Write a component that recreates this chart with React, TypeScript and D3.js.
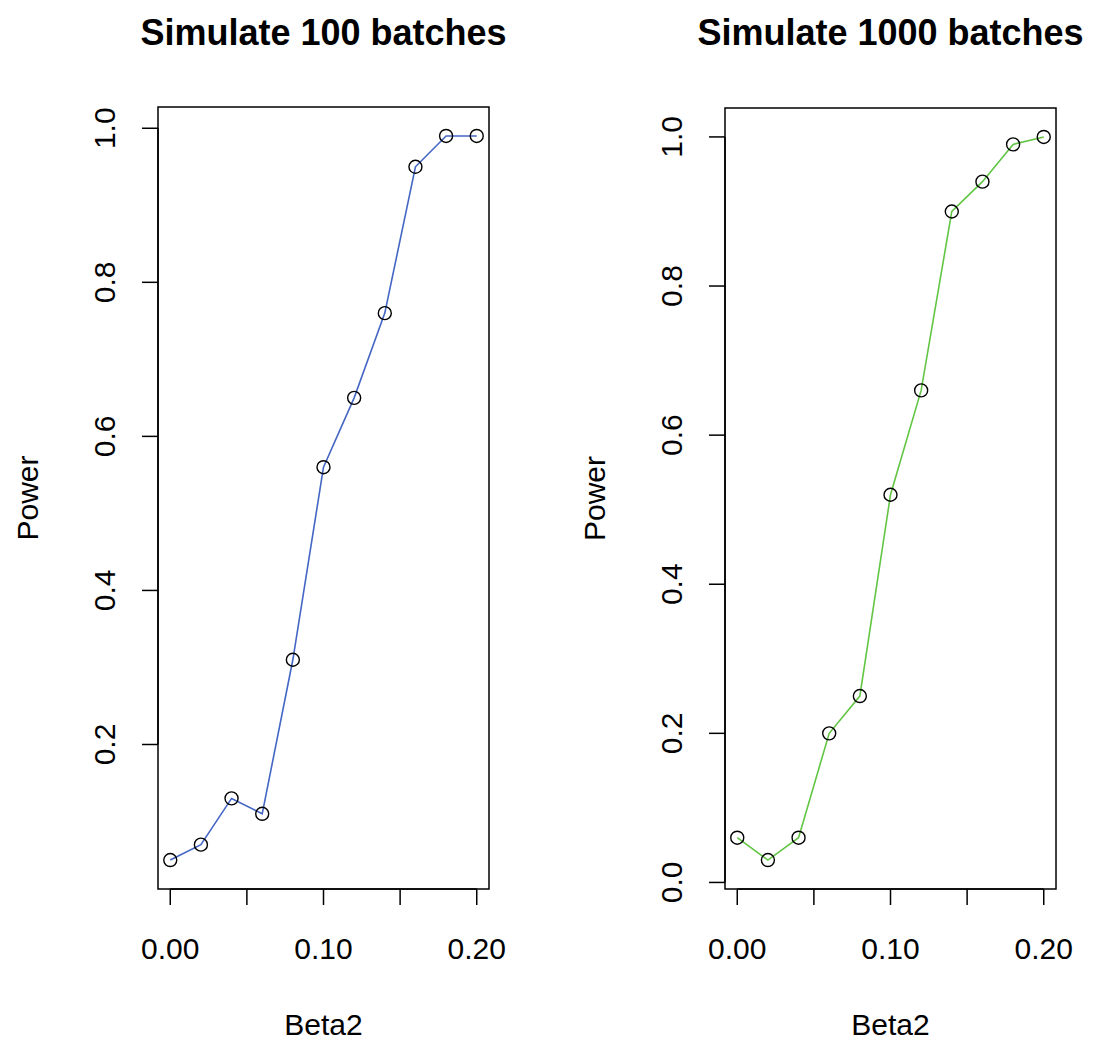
import React from 'react';
import * as d3 from 'd3';

// beta2 values shared by both panels
const beta2 = [0, 0.02, 0.04, 0.06, 0.08, 0.1, 0.12, 0.14, 0.16, 0.18, 0.2];
const power100 = [0.05, 0.07, 0.13, 0.11, 0.31, 0.56, 0.65, 0.76, 0.95, 0.99, 0.99];
const power1000 = [0.06, 0.03, 0.06, 0.2, 0.25, 0.52, 0.66, 0.9, 0.94, 0.99, 1.0];
const xTicks = [0, 0.05, 0.1, 0.15, 0.2];
const xTickLabels = ['0.00', '', '0.10', '', '0.20'];
const yTicks100 = [0.2, 0.4, 0.6, 0.8, 1.0];
const yTicks1000 = [0.0, 0.2, 0.4, 0.6, 0.8, 1.0];

const W = 1099;
const H = 1042;
const FONT = '"Liberation Sans", Arial, sans-serif';

// R style: extend range by 4% on each side
const padDomain = (vals) => {
    const [lo, hi] = d3.extent(vals);
    const e = (hi - lo) * 0.04;
    return [lo - e, hi + e];
};

function Panel({ left, right, top, bottom, title, values, yTicks, color }) {
    const x = d3.scaleLinear().domain(padDomain(beta2)).range([left, right]);
    const y = d3.scaleLinear().domain(padDomain(values)).range([bottom, top]);
    const pts = beta2.map((b, i) => [b, values[i]]);
    const line = d3
        .line()
        .x((d) => x(d[0]))
        .y((d) => y(d[1]));
    const cx = (left + right) / 2;
    const cy = (top + bottom) / 2;
    const tick = 16;

    return (
        <g fontFamily={FONT} fill="#000">
            <text x={cx} y={45} textAnchor="middle" fontSize={36} fontWeight="bold">
                {title}
            </text>
            <rect
                x={left}
                y={top}
                width={right - left}
                height={bottom - top}
                fill="none"
                stroke="#000"
                strokeWidth={1.5}
            />
            {/* x axis */}
            <line
                x1={x(xTicks[0])}
                x2={x(xTicks[xTicks.length - 1])}
                y1={bottom}
                y2={bottom}
                stroke="#000"
                strokeWidth={1.5}
            />
            {xTicks.map((t, i) => (
                <g key={'x' + i}>
                    <line x1={x(t)} x2={x(t)} y1={bottom} y2={bottom + tick} stroke="#000" strokeWidth={1.5} />
                    <text x={x(t)} y={bottom + 70} textAnchor="middle" fontSize={30}>
                        {xTickLabels[i]}
                    </text>
                </g>
            ))}
            <text x={cx} y={bottom + 146} textAnchor="middle" fontSize={30}>
                Beta2
            </text>
            {/* y axis */}
            <line
                x1={left}
                x2={left}
                y1={y(yTicks[0])}
                y2={y(yTicks[yTicks.length - 1])}
                stroke="#000"
                strokeWidth={1.5}
            />
            {yTicks.map((t, i) => (
                <g key={'y' + i}>
                    <line x1={left - tick} x2={left} y1={y(t)} y2={y(t)} stroke="#000" strokeWidth={1.5} />
                    <text
                        transform={`translate(${left - 43},${y(t)}) rotate(-90)`}
                        textAnchor="middle"
                        fontSize={30}
                    >
                        {t.toFixed(1)}
                    </text>
                </g>
            ))}
            <text
                transform={`translate(${left - 120},${cy}) rotate(-90)`}
                textAnchor="middle"
                fontSize={30}
            >
                Power
            </text>
            <path d={line(pts)} fill="none" stroke={color} strokeWidth={1.6} />
            {pts.map((d, i) => (
                <circle
                    key={'p' + i}
                    cx={x(d[0])}
                    cy={y(d[1])}
                    r={6.5}
                    fill="none"
                    stroke="#000"
                    strokeWidth={1.4}
                />
            ))}
        </g>
    );
}

export default function App() {
    return (
        <svg
            width={W}
            height={H}
            viewBox={`0 0 ${W} ${H}`}
            style={{ position: 'absolute', left: 0, top: 0, background: '#fff' }}
        >
            <rect width={W} height={H} fill="#fff" />
            <Panel
                left={158}
                right={489}
                top={107}
                bottom={889}
                title="Simulate 100 batches"
                values={power100}
                yTicks={yTicks100}
                color="#4466c4"
            />
            <Panel
                left={725}
                right={1056}
                top={108}
                bottom={889}
                title="Simulate 1000 batches"
                values={power1000}
                yTicks={yTicks1000}
                color="#62c544"
            />
        </svg>
    );
}
